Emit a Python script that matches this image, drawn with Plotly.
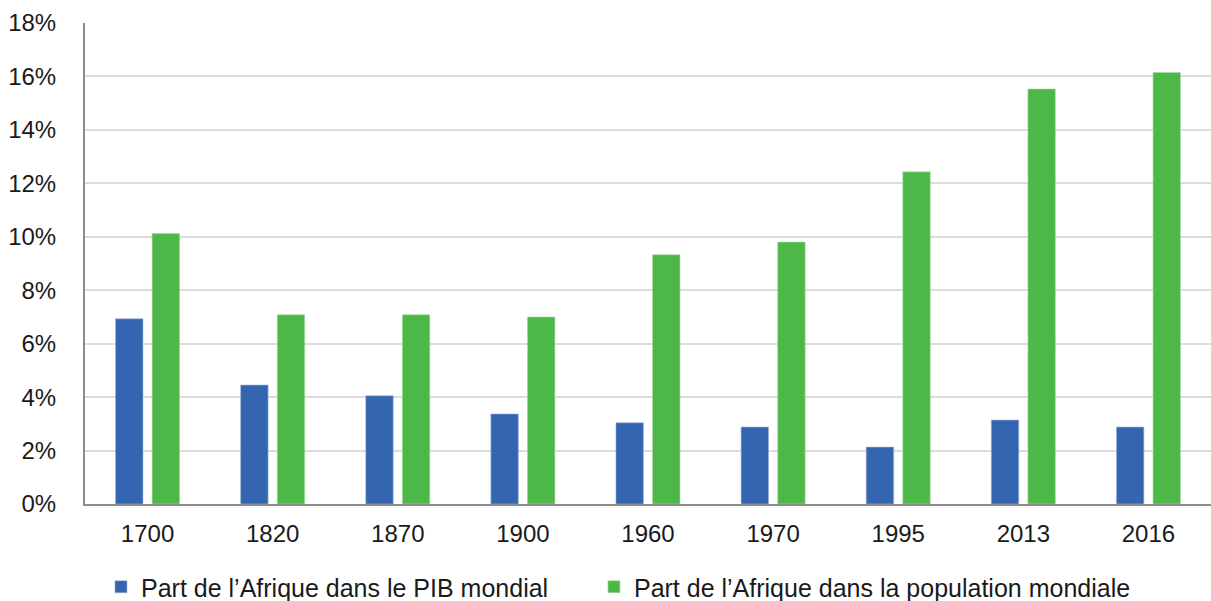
import plotly.graph_objects as go

years = ["1700", "1820", "1870", "1900", "1960", "1970", "1995", "2013", "2016"]
pib = [6.93, 4.45, 4.05, 3.37, 3.04, 2.88, 2.13, 3.14, 2.88]
population = [10.12, 7.08, 7.08, 7.0, 9.33, 9.8, 12.43, 15.53, 16.15]
name_pib = "Part de l\u2019Afrique dans le PIB mondial"
name_pop = "Part de l\u2019Afrique dans la population mondiale"
y_ticks = [0, 2, 4, 6, 8, 10, 12, 14, 16, 18]
y_labels = [f"{v}%" for v in y_ticks]

fig = go.Figure()
fig.add_trace(go.Bar(x=years, y=pib, name=name_pib, legend="legend",
                     marker=dict(color="#3465B0", line=dict(color="#9db4dc", width=0.6))))
fig.add_trace(go.Bar(x=years, y=population, name=name_pop, legend="legend2",
                     marker=dict(color="#4DB848", line=dict(color="#a6dca3", width=0.6))))

font = "Liberation Sans, Arial, Helvetica, sans-serif"
leg_common = dict(orientation="h", xanchor="left", y=-0.1726, yanchor="middle",
                  font=dict(size=25, color="#1a1a1a"), itemclick=False,
                  bgcolor="rgba(0,0,0,0)")
fig.update_layout(
    width=1211, height=601,
    margin=dict(l=85, r=0, t=23, b=97, autoexpand=False),
    paper_bgcolor="white", plot_bgcolor="white",
    barmode="group", bargap=0.415, bargroupgap=0.25,
    font=dict(family=font, size=24, color="#1a1a1a"),
    showlegend=True,
    legend=dict(x=0.0142, **leg_common),
    legend2=dict(x=0.452, **leg_common),
)
fig.update_xaxes(showgrid=False, showline=True, linecolor="#8c8c8c", linewidth=2,
                 ticks="", ticklabelstandoff=7, tickfont=dict(size=24), automargin=False)
fig.update_yaxes(range=[0, 18], tickvals=y_ticks, ticktext=y_labels,
                 showgrid=True, gridcolor="#dcdcdc", gridwidth=2,
                 showline=True, linecolor="#8c8c8c", linewidth=2,
                 zeroline=False, ticks="", ticklabelstandoff=22, tickfont=dict(size=24),
                 automargin=False)

fig.write_html("out.html", config={"displayModeBar": False},
               post_script="document.body.style.margin='0';")
